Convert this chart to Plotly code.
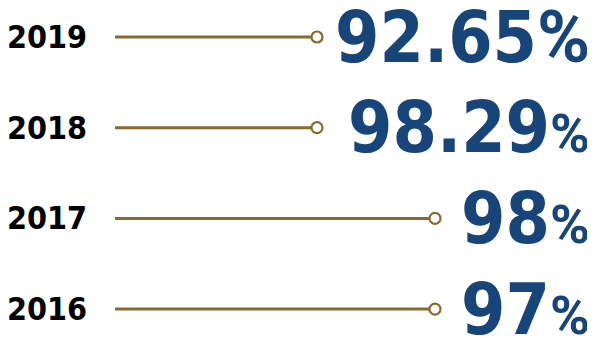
import plotly.graph_objects as go

# ---- data ----
years = ["2019", "2018", "2017", "2016"]
rates = [92.65, 98.29, 98, 97]
leader_end = [317, 317, 435, 435]   # x where each leader line ends (chart units)
small_pct = [False, True, True, True]

# ---- style / layout ----
PAGE_W, PAGE_H = 595, 338
BODY_MARGIN = 8                     # default page margin around the figure div
W, H = PAGE_W - BODY_MARGIN, PAGE_H - BODY_MARGIN
LINE_COLOR = "#866B2D"
VALUE_COLOR = "#17457A"
FONT = "DejaVu Sans Condensed, Roboto"
PCT_FONT = "Roboto"
LEADER_START = 115
ROW_SPACING_PX = 90.7
FIRST_ROW_PX = 37

n = len(years)
rows = list(range(n))
y_top = (BODY_MARGIN - FIRST_ROW_PX) / ROW_SPACING_PX
y_bottom = (PAGE_H - FIRST_ROW_PX) / ROW_SPACING_PX

fig = go.Figure()

for i, end in enumerate(leader_end):
    fig.add_trace(go.Scatter(
        x=[LEADER_START, end], y=[i, i],
        mode="lines",
        line=dict(color=LINE_COLOR, width=3),
        hoverinfo="skip", showlegend=False,
    ))
fig.add_trace(go.Scatter(
    x=leader_end, y=rows,
    mode="markers",
    marker=dict(symbol="circle", size=11, color="white",
                line=dict(color=LINE_COLOR, width=2.2)),
    hoverinfo="skip", showlegend=False,
))

def fmt(v):
    return f"{v:g}"

annotations = []
for i, (yr, v, sp) in enumerate(zip(years, rates, small_pct)):
    annotations.append(dict(
        x=BODY_MARGIN, y=i, xref="x", yref="y", xanchor="left", yanchor="middle",
        xshift=-2, text=yr, showarrow=False, borderpad=0,
        font=dict(family=FONT, size=32, color="#000000", weight="bold"),
    ))
    pct_size = 54 if sp else 72
    pct = f"<span style='font-family:{PCT_FONT};font-size:{pct_size}px'>%</span>"
    annotations.append(dict(
        x=591, y=i, xref="x", yref="y", xanchor="right", yanchor="middle",
        text=fmt(v) + pct, showarrow=False, borderpad=0,
        font=dict(family=FONT, size=71, color=VALUE_COLOR, weight="bold"),
    ))

fig.update_layout(
    width=W, height=H,
    margin=dict(l=0, r=0, t=0, b=0),
    paper_bgcolor="white", plot_bgcolor="white",
    xaxis=dict(range=[BODY_MARGIN, PAGE_W], visible=False, fixedrange=True),
    yaxis=dict(range=[y_bottom, y_top], visible=False, fixedrange=True),
    annotations=annotations,
)

fig.write_html("out.html")
